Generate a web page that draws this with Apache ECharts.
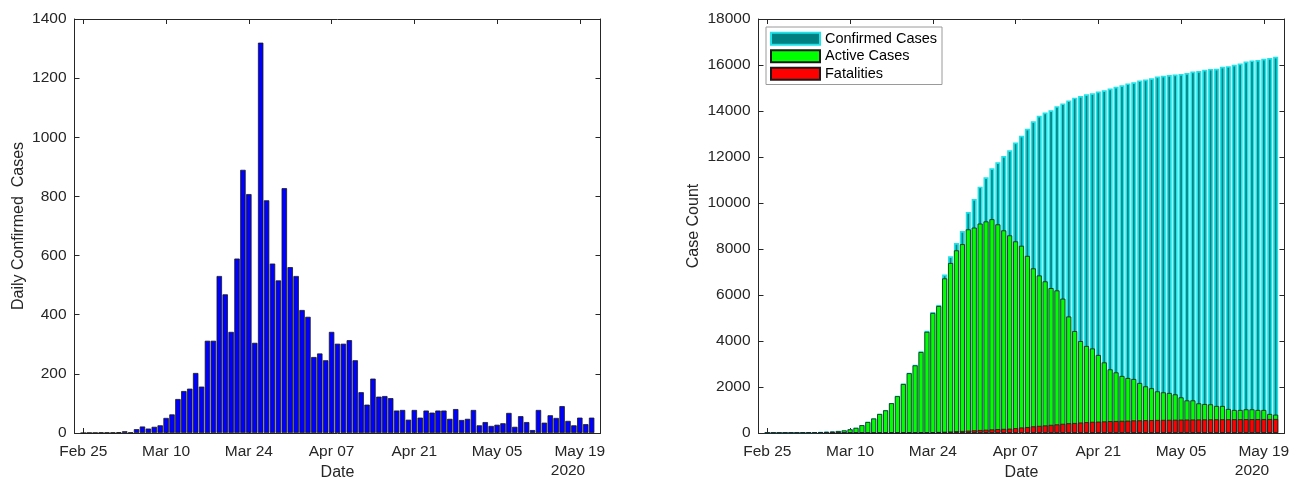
<!DOCTYPE html>
<html>
<head>
<meta charset="utf-8">
<script src="https://cdn.jsdelivr.net/npm/echarts@6/dist/echarts.min.js"></script>
<style>
  html, body { margin: 0; padding: 0; background: #fff; }
  #main { width: 1297px; height: 479px; }
</style>
</head>
<body>
<div id="main"></div>
<script>
// axis runs one day either side of the data (Feb 24 .. May 22, 2020)
var axisStart = new Date(2020, 1, 24);
var axisDays = 89;
var monthNames = ['Jan', 'Feb', 'Mar', 'Apr', 'May', 'Jun', 'Jul', 'Aug', 'Sep', 'Oct', 'Nov', 'Dec'];
var tickLabels = ['Feb 25', 'Mar 10', 'Mar 24', 'Apr 07', 'Apr 21', 'May 05', 'May 19'];
var yearLabel = '2020';

// left panel: daily confirmed cases, Feb 25 .. May 21
var dailyCases = [
  0, 1, 1, 2, 2, 2, 3, 6, 2,
  13, 22, 15, 21, 26, 51, 63, 115, 142, 150, 203, 157, 312, 312, 531, 469, 342, 590, 890, 808,
  305, 1320, 787, 573, 516, 828, 561, 531, 416, 393, 257, 269, 246, 342, 302, 302, 314, 246,
  138, 96, 184, 123, 125, 118,
  76, 78, 45, 78, 52, 76, 69, 76, 76, 48, 81, 44, 48, 78, 26, 37, 24, 28, 33, 68, 21, 57, 37,
  10, 78, 35, 60, 51, 91, 41, 26, 52, 30, 52
];

// right panel, Feb 25 .. May 21
var confirmedCases = [
  0, 1, 2, 4, 6, 8, 11, 17, 19, 32, 54,
  69, 90, 116, 167, 230, 345, 487, 637, 840, 997,
  1309, 1621, 2152, 2621, 2963, 3553, 4443, 5260, 5570, 6890,
  7680, 8260, 8780, 9610, 10170, 10710, 11120, 11510, 11770, 12040,
  12290, 12630, 12920, 13230, 13550, 13790, 13930, 14030, 14210, 14330,
  14460, 14580, 14650, 14730, 14770, 14850, 14900, 14980, 15050, 15120,
  15200, 15250, 15330, 15370, 15420, 15500, 15530, 15560, 15590, 15610,
  15650, 15720, 15740, 15790, 15830, 15840, 15920, 15950, 16010, 16060,
  16150, 16200, 16220, 16270, 16300, 16360
];
var activeCases = [
  0, 1, 2, 4, 6, 8, 11, 17, 19, 30, 52,
  65, 87, 112, 160, 225, 340, 478, 630, 826, 985,
  1295, 1600, 2130, 2600, 2940, 3520, 4400, 5216, 5521, 6723,
  7390, 7941, 8210, 8854, 8930, 9105, 9200, 9295, 9071, 8810,
  8593, 8332, 8140, 7700, 7158, 6850, 6593, 6300, 6200, 5840,
  5065, 4430, 3995, 3782, 3675, 3391, 3070, 2768, 2635, 2478,
  2390, 2347, 2174, 2029, 1945, 1811, 1768, 1739, 1680, 1550,
  1418, 1418, 1290, 1258, 1246, 1174, 1174, 1043, 1000, 1000,
  1029, 1029, 1000, 1000, 826, 797
];
var fatalities = [
  0, 0, 0, 0, 0, 0, 0, 0, 0, 0, 0,
  0, 0, 0, 0, 0, 0, 0, 0, 0, 2,
  4, 6, 9, 12, 16, 20, 27, 35, 45, 55,
  65, 78, 90, 103, 116, 130, 143, 156, 170, 180,
  190, 210, 240, 258, 290, 310, 330, 355, 375, 400,
  425, 435, 455, 472, 488, 495, 505, 518, 522, 532,
  538, 548, 552, 558, 562, 567, 572, 575, 578, 582,
  584, 587, 590, 592, 594, 595, 597, 598, 600, 600,
  602, 604, 605, 606, 608, 610
];

var ink = '#262626';
var font = 'Liberation Sans, Arial, Helvetica, sans-serif';

var categories = [];
for (var d = 0; d < axisDays; d++) {
  var dt = new Date(axisStart.getTime());
  dt.setDate(dt.getDate() + d);
  var dd = dt.getDate();
  categories.push(monthNames[dt.getMonth()] + ' ' + (dd < 10 ? '0' + dd : dd));
}

// pad one empty day on each side
function padded(arr) {
  return [null].concat(arr, [null]);
}

function isTick(idx, val) {
  return tickLabels.indexOf(val) >= 0;
}

function xAxes(grid) {
  return [{
    type: 'category', gridIndex: grid, position: 'bottom',
    data: categories, boundaryGap: true,
    name: 'Date', nameLocation: 'middle', nameGap: 30,
    nameTextStyle: { color: ink, fontSize: 16, fontFamily: font },
    axisLine: { show: true, lineStyle: { color: ink, width: 1 } },
    axisTick: { show: true, inside: true, length: 5, alignWithLabel: true, interval: isTick, lineStyle: { color: ink } },
    axisLabel: { show: true, interval: isTick, margin: 11, color: ink, fontSize: 15.5, fontFamily: font },
    splitLine: { show: false }
  }, {
    type: 'category', gridIndex: grid, position: 'top',
    data: categories, boundaryGap: true,
    axisLine: { show: true, onZero: false, lineStyle: { color: ink, width: 1 } },
    axisTick: { show: true, inside: true, length: 5, alignWithLabel: true, interval: isTick, lineStyle: { color: ink } },
    axisLabel: { show: false, interval: isTick },
    splitLine: { show: false }
  }];
}

function yAxes(grid, max, interval, name, nameGap) {
  return [{
    type: 'value', gridIndex: grid, position: 'left',
    min: 0, max: max, interval: interval,
    name: name, nameLocation: 'middle', nameGap: nameGap,
    nameTextStyle: { color: ink, fontSize: 16, fontFamily: font },
    axisLine: { show: true, lineStyle: { color: ink, width: 1 } },
    axisTick: { show: true, inside: true, length: 5, lineStyle: { color: ink } },
    axisLabel: { margin: 8, color: ink, fontSize: 15.5, fontFamily: font, formatter: function (v) { return String(v); } },
    splitLine: { show: false }
  }, {
    type: 'value', gridIndex: grid, position: 'right',
    min: 0, max: max, interval: interval,
    axisLine: { show: true, lineStyle: { color: ink, width: 1 } },
    axisTick: { show: true, inside: true, length: 5, lineStyle: { color: ink } },
    axisLabel: { show: false },
    splitLine: { show: false }
  }];
}

var myChart = echarts.init(document.getElementById('main'), null, { renderer: 'canvas' });

var option = {
  animation: false,
  backgroundColor: '#fff',
  textStyle: { fontFamily: font },
  grid: [
    { left: 74.5, top: 19, width: 526, height: 414, outerBoundsMode: 'none', containLabel: false },
    { left: 758.5, top: 19, width: 526, height: 414, outerBoundsMode: 'none', containLabel: false }
  ],
  xAxis: xAxes(0).concat(xAxes(1)),
  yAxis: yAxes(0, 1400, 200, 'Daily Confirmed  Cases', 48).concat(yAxes(1, 18000, 2000, 'Case Count', 57)),
  legend: {
    orient: 'vertical', left: 766, top: 27,
    padding: [3, 5, 2, 4], itemGap: 0, itemWidth: 49, itemHeight: 12,
    icon: 'rect',
    backgroundColor: '#fff', borderColor: '#9a9a9a', borderWidth: 1, borderRadius: 0,
    textStyle: { color: '#000', fontSize: 14.5, lineHeight: 17.5, fontFamily: font },
    data: ['Confirmed Cases', 'Active Cases', 'Fatalities']
  },
  graphic: [
    { type: 'text', x: 568, y: 471, style: { text: yearLabel, fill: ink, font: '15.5px ' + font, align: 'center', verticalAlign: 'middle' } },
    { type: 'text', x: 1252, y: 471, style: { text: yearLabel, fill: ink, font: '15.5px ' + font, align: 'center', verticalAlign: 'middle' } }
  ],
  series: [
    {
      name: 'Daily', type: 'bar', xAxisIndex: 0, yAxisIndex: 0,
      barWidth: '92%',
      itemStyle: { color: '#0000ff', borderColor: '#1a1a1a', borderWidth: 0.8 },
      data: padded(dailyCases)
    },
    {
      name: 'Confirmed Cases', type: 'bar', xAxisIndex: 2, yAxisIndex: 2,
      barWidth: '86%', barGap: '-100%',
      itemStyle: { color: '#008080', borderColor: '#1ee3e8', borderWidth: 1.7 },
      data: padded(confirmedCases)
    },
    {
      name: 'Active Cases', type: 'bar', xAxisIndex: 2, yAxisIndex: 2,
      barWidth: '86%', barGap: '-100%',
      itemStyle: { color: '#00ff00', borderColor: '#1a1a1a', borderWidth: 0.8 },
      data: padded(activeCases)
    },
    {
      name: 'Fatalities', type: 'bar', xAxisIndex: 2, yAxisIndex: 2,
      barWidth: '86%', barGap: '-100%',
      itemStyle: { color: '#ff0000', borderColor: '#1a1a1a', borderWidth: 0.8 },
      data: padded(fatalities)
    }
  ]
};

option && myChart.setOption(option);
</script>
</body>
</html>
